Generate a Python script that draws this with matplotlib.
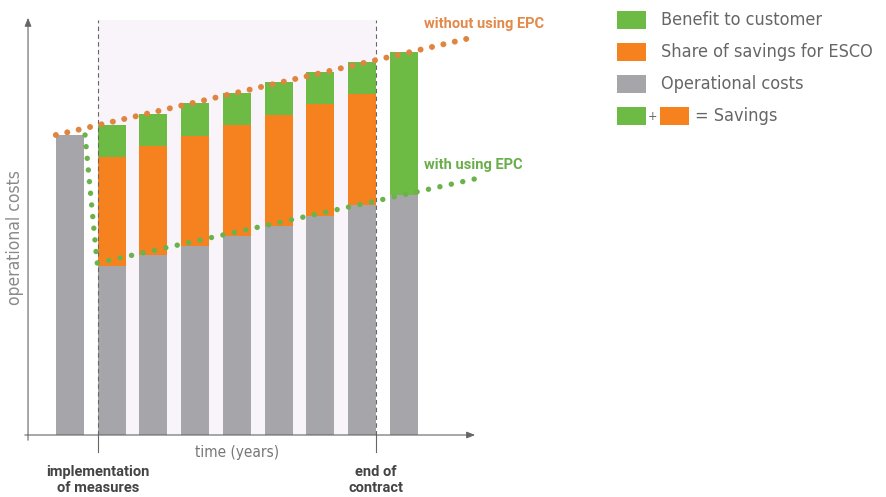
import numpy as np
import matplotlib
matplotlib.use("Agg")
import matplotlib.pyplot as plt
from matplotlib.patches import Rectangle

# --- data -------------------------------------------------------------
years = np.arange(9)
operational_costs = [300, 169, 180, 189, 199, 209, 219, 230, 240]
esco_share = [0, 109, 109, 110, 111, 111, 112, 111, 0]
customer_benefit = [0, 32, 32, 33, 32, 33, 32, 32, 143]

# cost trend lines
without_epc_x = [-0.34, 9.7]
without_epc_y = [300, 398]
with_epc_x = [0.36, 0.65, 9.7]
with_epc_y = [300, 172, 256]

legend_labels = ["Benefit to customer", "Share of savings for ESCO",
                 "Operational costs", "= Savings"]

# --- style -------------------------------------------------------------
GREEN = "#6dbb45"
ORANGE = "#f6821f"
GREY = "#a6a5aa"
DOT_ORANGE = "#e0853f"
DOT_GREEN = "#6cb24a"
COND = dict(family="DejaVu Sans", stretch="condensed")
HEAVY = dict(family="Roboto", fontweight="bold")

fig = plt.figure(figsize=(8.87, 4.97), dpi=100)
ax = fig.add_axes([0, 0, 1, 1])
ax.set_xlim(-1.679, 19.59)
ax.set_ylim(-62, 435)
ax.axis("off")

width = 0.67
contract_start = 1 - width / 2
contract_end = 7 + width / 2

# contract period background
ax.add_patch(Rectangle((contract_start, 0), contract_end - contract_start, 415,
                       facecolor="#f8f4f9", edgecolor="none", zorder=0))

# stacked bars
ops = np.array(operational_costs)
esco = np.array(esco_share)
ben = np.array(customer_benefit)
ax.bar(years, ops, width=width, color=GREY, zorder=2)
ax.bar(years, esco, width=width, bottom=ops, color=ORANGE, zorder=2)
ax.bar(years, ben, width=width, bottom=ops + esco, color=GREEN, zorder=2)

# contract boundaries
for xv in (contract_start, contract_end):
    ax.plot([xv, xv], [0, 415], color="#666666", lw=0.8, ls=(0, (4, 3)), zorder=3)
    ax.plot([xv, xv], [0, -17], color="#666666", lw=0.8, zorder=3)

# axes with arrows
ax.annotate("", xy=(9.78, 0), xytext=(-1.15, 0),
            arrowprops=dict(arrowstyle="-|>,head_length=0.5,head_width=0.2",
                            color="#666666", lw=0.8), zorder=4)
ax.annotate("", xy=(-1.007, 420), xytext=(-1.007, -8),
            arrowprops=dict(arrowstyle="-|>,head_length=0.5,head_width=0.2",
                            color="#666666", lw=0.8), zorder=4)

# dotted trend lines
ax.plot(without_epc_x, without_epc_y, color=DOT_ORANGE, lw=4.3,
        ls=(0, (0.01, 1.95)), dash_capstyle="round", zorder=5)
ax.plot(with_epc_x, with_epc_y, color=DOT_GREEN, lw=3.9,
        ls=(0, (0.01, 2.15)), dash_capstyle="round", zorder=5)

ax.text(9.93, 411, "without using EPC", color="#e3894a", fontsize=10.5,
        ha="center", va="center", **HEAVY)
ax.text(9.67, 270, "with using EPC", color="#6aad4b", fontsize=10.5,
        ha="center", va="center", **HEAVY)

# axis labels
ax.text(-1.32, 197, "operational costs", rotation=90, color="#8a8a8a",
        fontsize=12.5, ha="center", va="center", **COND)
ax.text(4.0, -17, "time (years)", color="#777777", fontsize=11,
        ha="center", va="center", **COND)
ax.text(contract_start, -45, "implementation\nof measures", color="#444444",
        fontsize=10.5, ha="center", va="center", linespacing=1.2, **HEAVY)
ax.text(contract_end, -45, "end of\ncontract", color="#444444",
        fontsize=10.5, ha="center", va="center", linespacing=1.2, **HEAVY)

# legend
def fig_box(px, py, w, h, color):
    fig.patches.append(Rectangle((px / 887, 1 - (py + h) / 497), w / 887, h / 497,
                                 transform=fig.transFigure, facecolor=color,
                                 edgecolor="none"))

rows_y = [20, 52, 84, 116]
for yy, col, lab in zip(rows_y[:3], [GREEN, ORANGE, GREY], legend_labels[:3]):
    fig_box(617, yy - 9, 29, 18, col)
    fig.text(661 / 887, 1 - yy / 497, lab, color="#666666", fontsize=13,
             va="center", ha="left", **COND)
fig_box(617, rows_y[3] - 9, 29, 18, GREEN)
fig.text(653 / 887, 1 - rows_y[3] / 497, "+", color="#666666", fontsize=9,
         va="center", ha="center", **COND)
fig_box(660, rows_y[3] - 9, 29, 18, ORANGE)
fig.text(695 / 887, 1 - rows_y[3] / 497, legend_labels[3], color="#666666",
         fontsize=13, va="center", ha="left", **COND)

fig.savefig("out.png", dpi=100, facecolor="white")
